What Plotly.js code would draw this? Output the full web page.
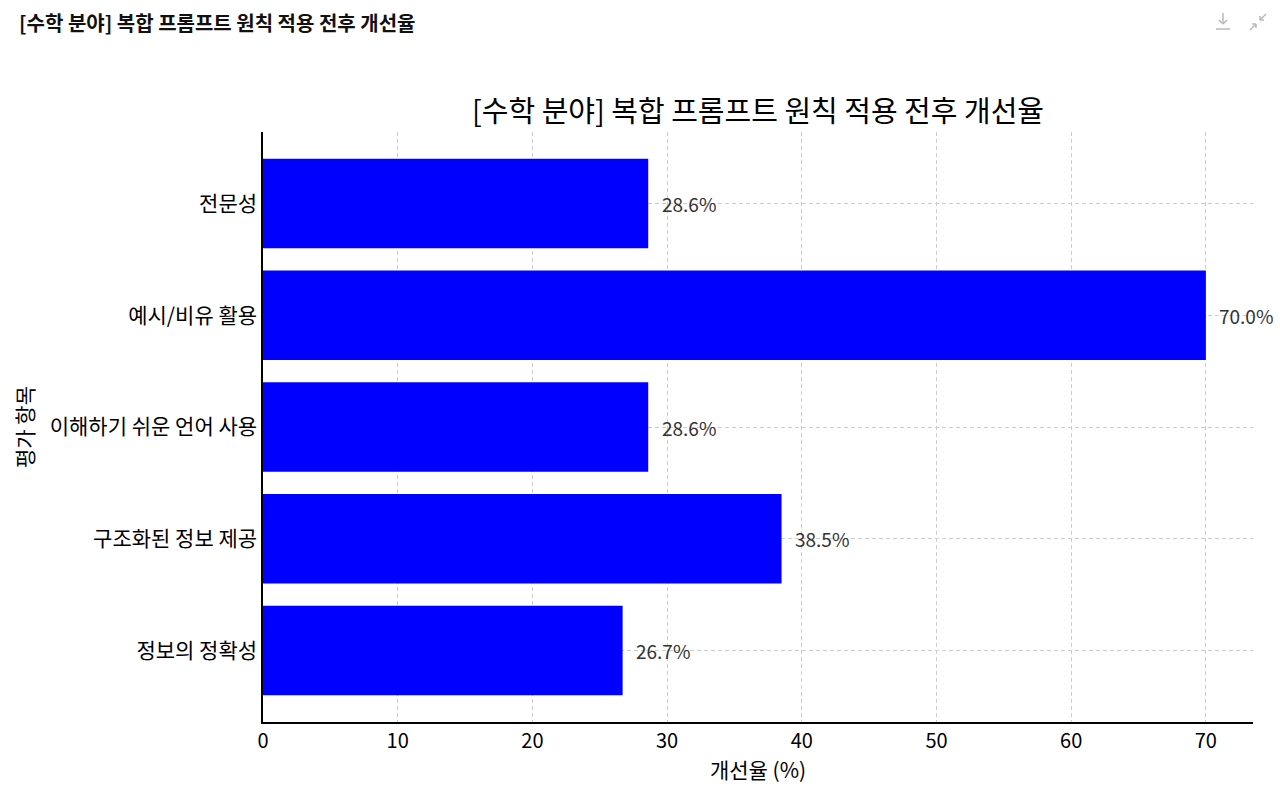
<!DOCTYPE html>
<html>
<head>
<meta charset="utf-8">
<script src="https://cdn.plot.ly/plotly-3.0.1.min.js"></script>
<style>
html,body{margin:0;padding:0;background:#fff;}
#chart{width:1280px;height:795px;}
</style>
</head>
<body>
<div id="chart"></div>
<script>
const categories = ["정보의 정확성", "구조화된 정보 제공", "이해하기 쉬운 언어 사용", "예시/비유 활용", "전문성"];
const improvement = [26.7, 38.5, 28.6, 70.0, 28.6];
const xTicks = [0, 10, 20, 30, 40, 50, 60, 70];
const chartTitle = "[수학 분야] 복합 프롬프트 원칙 적용 전후 개선율";
const xTitle = "개선율 (%)";
const yTitle = "평가 항목";

const FONT = "Noto Sans CJK KR, Noto Sans, sans-serif";

const trace = {
  type: "bar",
  orientation: "h",
  x: improvement,
  y: categories,
  marker: {color: "#0000FF", line: {width: 0}},
  width: 0.8,
  hoverinfo: "x+y"
};

const labelAnnotations = improvement.map((v, i) => ({
  x: v + 1, y: categories[i], xref: "x", yref: "y",
  text: v.toFixed(1) + "%", showarrow: false, xanchor: "left", yanchor: "middle",
  xshift: -2,
  font: {family: FONT, size: 19, color: "#333333"}
}));

// plot area in pixels: x 263..1253, y 132..722
const px = p => (p - 263) / 990;
const py = p => (722 - p) / 590;
const iconColor = "#b8b8b8";

const layout = {
  width: 1280, height: 795,
  paper_bgcolor: "#ffffff", plot_bgcolor: "#ffffff",
  margin: {l: 263, r: 27, t: 132, b: 73},
  showlegend: false,
  font: {family: FONT, color: "#000"},
  title: {
    text: chartTitle,
    font: {family: FONT, size: 29, color: "#000"},
    x: 0.5, xref: "paper", xanchor: "center",
    y: 1 - 112/795, yref: "container", yanchor: "middle"
  },
  xaxis: {
    range: [0, 73.5],
    tickvals: xTicks,
    ticktext: xTicks.map(String),
    ticks: "", ticklen: 0,
    showline: true, linecolor: "#000", linewidth: 1.5,
    showgrid: true, gridcolor: "#cccccc", griddash: "4px,3px", gridwidth: 0.8,
    zeroline: false,
    layer: "above traces",
    tickfont: {family: FONT, size: 20, color: "#000"},
    title: {text: xTitle, font: {family: FONT, size: 21, color: "#000"}, standoff: 2},
    automargin: false,
    fixedrange: true
  },
  yaxis: {
    type: "category",
    categoryorder: "array",
    categoryarray: categories,
    range: [-0.64, 4.64],
    ticks: "", ticklen: 0,
    showline: true, linecolor: "#000", linewidth: 1.5,
    showgrid: true, gridcolor: "#cccccc", griddash: "4px,3px", gridwidth: 0.8,
    zeroline: false,
    layer: "above traces",
    tickfont: {family: FONT, size: 21, color: "#000"},
    ticklabelstandoff: 0,
    title: {text: yTitle, font: {family: FONT, size: 21, color: "#000"}, standoff: 10},
    automargin: false,
    fixedrange: true
  },
  annotations: labelAnnotations.concat([
    {
      xref: "paper", yref: "paper", x: px(17), y: py(22),
      text: "<b>" + chartTitle + "</b>", showarrow: false,
      xanchor: "left", yanchor: "middle",
      font: {family: FONT, size: 20, color: "#111"}
    }
  ]),
  shapes: [
    // download icon
    {type: "line", xref: "paper", yref: "paper", x0: px(1223), x1: px(1223), y0: py(13), y1: py(24), line: {color: iconColor, width: 1.5}},
    {type: "line", xref: "paper", yref: "paper", x0: px(1219), x1: px(1223), y0: py(20), y1: py(24), line: {color: iconColor, width: 1.5}},
    {type: "line", xref: "paper", yref: "paper", x0: px(1227), x1: px(1223), y0: py(20), y1: py(24), line: {color: iconColor, width: 1.5}},
    {type: "line", xref: "paper", yref: "paper", x0: px(1216), x1: px(1230), y0: py(29), y1: py(29), line: {color: iconColor, width: 1.5}},
    // collapse icon
    {type: "line", xref: "paper", yref: "paper", x0: px(1266), x1: px(1260), y0: py(14), y1: py(20), line: {color: iconColor, width: 1.5}},
    {type: "line", xref: "paper", yref: "paper", x0: px(1260), x1: px(1260), y0: py(16), y1: py(20), line: {color: iconColor, width: 1.5}},
    {type: "line", xref: "paper", yref: "paper", x0: px(1260), x1: px(1264), y0: py(20), y1: py(20), line: {color: iconColor, width: 1.5}},
    {type: "line", xref: "paper", yref: "paper", x0: px(1250), x1: px(1256), y0: py(30), y1: py(24), line: {color: iconColor, width: 1.5}},
    {type: "line", xref: "paper", yref: "paper", x0: px(1256), x1: px(1256), y0: py(24), y1: py(28), line: {color: iconColor, width: 1.5}},
    {type: "line", xref: "paper", yref: "paper", x0: px(1256), x1: px(1252), y0: py(24), y1: py(24), line: {color: iconColor, width: 1.5}}
  ]
};

Plotly.newPlot("chart", [trace], layout, {displayModeBar: false, responsive: false});
</script>
</body>
</html>
